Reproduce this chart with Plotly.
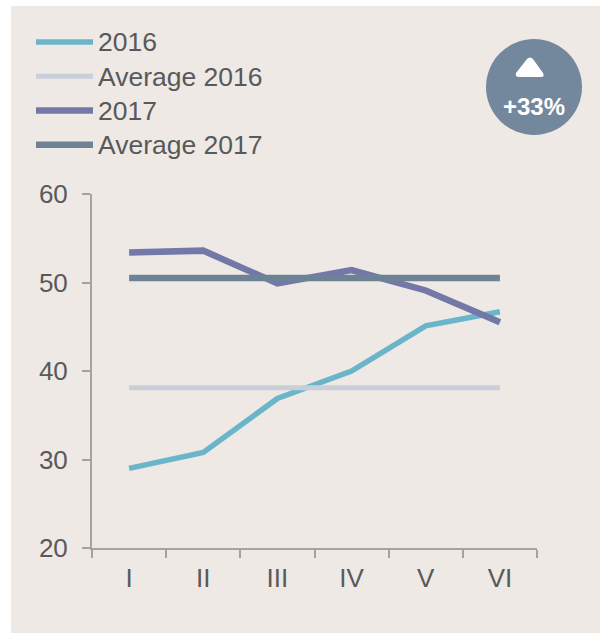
import plotly.graph_objects as go

categories = ["I", "II", "III", "IV", "V", "VI"]
values_2016 = [29.0, 30.8, 36.9, 40.0, 45.1, 46.7]
values_2017 = [53.4, 53.6, 49.9, 51.4, 49.1, 45.5]
average_2016 = [38.1] * 6
average_2017 = [50.5] * 6
y_ticks = [20, 30, 40, 50, 60]

W, H = 600, 633
L, R, T, B = 92, 63, 194, 85
FONT = "Liberation Sans, Arial, sans-serif"
TEXT = "#595959"
AXIS = "#A5A2A0"
BADGE = "#74889D"


def px(x):
    return (x - L) / (W - L - R)


def py(y):
    return 1 - (y - T) / (H - T - B)


def big(s):
    return f'<span style="font-size:26.5px">{s}</span>'


fig = go.Figure()
for name, vals, col, w in [
    ("2016", values_2016, "#6BB5CB", 5.5),
    ("Average 2016", average_2016, "#C8CFD8", 5),
    ("2017", values_2017, "#7478A8", 6.5),
    ("Average 2017", average_2017, "#6E8296", 6.5),
]:
    fig.add_trace(go.Scatter(x=categories, y=vals, name=big(name), mode="lines",
                             line=dict(color=col, width=w)))

tri = (f"M {px(516)} {py(73)} Q {px(515)} {py(77)} {px(519)} {py(77)} "
       f"L {px(541)} {py(77)} Q {px(545)} {py(77)} {px(543)} {py(73)} "
       f"L {px(533)} {py(59)} Q {px(530)} {py(56)} {px(527)} {py(59)} Z")

fig.update_layout(
    width=W, height=H,
    margin=dict(l=L, r=R, t=T, b=B, pad=0),
    autosize=False,
    paper_bgcolor="white",
    plot_bgcolor="rgba(0,0,0,0)",
    font=dict(family=FONT, size=26, color=TEXT),
    showlegend=True,
    legend=dict(x=px(31), y=py(20), xanchor="left", yanchor="top",
                bgcolor="rgba(0,0,0,0)", itemwidth=57, tracegroupgap=0,
                font=dict(family=FONT, size=24, color=TEXT)),
    xaxis=dict(type="category", range=[-0.5, 5.5], tickson="boundaries",
               ticks="outside", ticklen=8, tickwidth=1.5, tickcolor=AXIS,
               showline=True, linecolor=AXIS, linewidth=2, showgrid=False,
               zeroline=False, ticklabelstandoff=6,
               tickfont=dict(size=26, color=TEXT)),
    yaxis=dict(range=[20, 60], tickvals=y_ticks, ticks="outside", ticklen=8,
               tickwidth=1.5, tickcolor=AXIS, showline=True, linecolor=AXIS,
               linewidth=2, showgrid=False, zeroline=False, ticklabelstandoff=9,
               tickfont=dict(size=26, color=TEXT)),
    shapes=[
        dict(type="rect", xref="paper", yref="paper", layer="below",
             x0=px(11), x1=px(600), y0=py(633), y1=py(6),
             fillcolor="#EEE9E5", line_width=0),
        dict(type="circle", xref="paper", yref="paper", layer="above",
             x0=px(486), x1=px(582), y0=py(135), y1=py(39),
             fillcolor=BADGE, line_width=0),
        dict(type="path", xref="paper", yref="paper", layer="above",
             path=tri, fillcolor="white", line_width=0),
    ],
    annotations=[
        dict(text="<b>+33%</b>", xref="paper", yref="paper", x=px(534), y=py(106),
             xanchor="center", yanchor="middle", showarrow=False,
             font=dict(family=FONT, size=24, color="white")),
    ],
)

fig.write_html("out.html", post_script="document.body.style.margin='0';",
               config=dict(displayModeBar=False))
